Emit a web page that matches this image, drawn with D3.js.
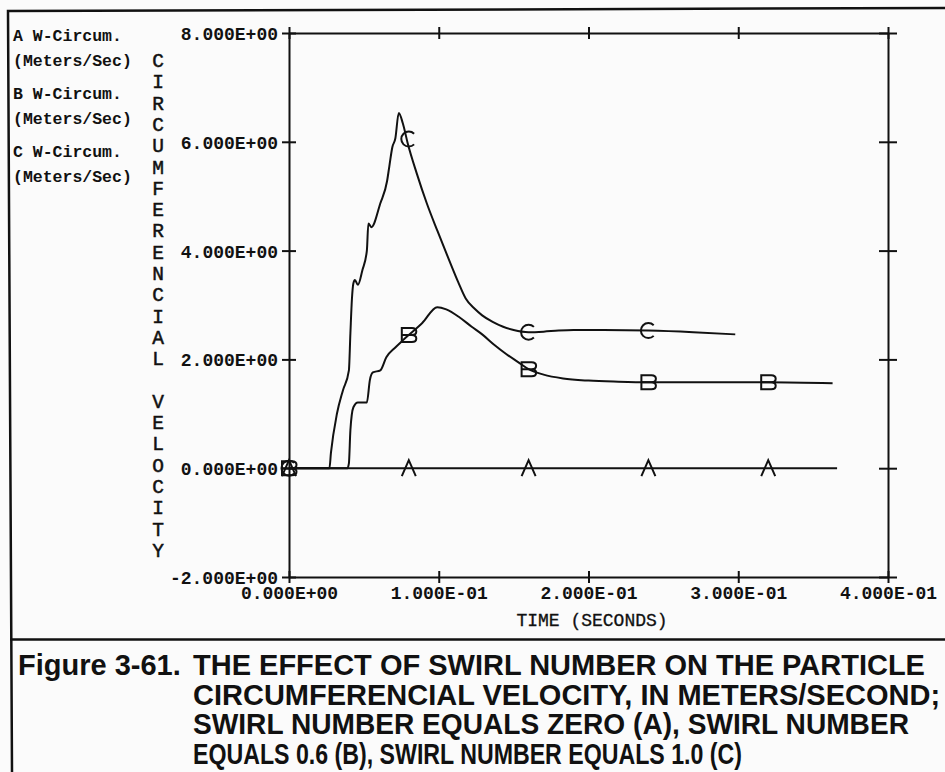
<!DOCTYPE html>
<html><head><meta charset="utf-8">
<script src="https://cdn.jsdelivr.net/npm/d3@7"></script>
<style>html,body{margin:0;padding:0;background:#fbfbfb;} svg{display:block;}</style>
</head><body><svg id="c" width="945" height="772"></svg>
<script>
// ---------- data ----------
const xTicks = [0, 0.1, 0.2, 0.3, 0.4];
const xTickLabels = ["0.000E+00", "1.000E-01", "2.000E-01", "3.000E-01", "4.000E-01"];
const yTicks = [-2, 0, 2, 4, 6, 8];
const yTickLabels = ["-2.000E+00", "0.000E+00", "2.000E+00", "4.000E+00", "6.000E+00", "8.000E+00"];

// Series A: swirl number 0
const aTime = [0, 0.366];
const aVel  = [0, 0];
// Series B: swirl number 0.6
const bTime = [0, 0.039, 0.040, 0.041, 0.043, 0.046, 0.052, 0.054, 0.056, 0.061, 0.065, 0.071, 0.076, 0.080, 0.089, 0.099, 0.105, 0.114, 0.122, 0.129, 0.137, 0.145, 0.153, 0.160, 0.170, 0.183, 0.200, 0.220, 0.240, 0.280, 0.320, 0.363];
const bVel  = [0, 0, 0.09, 0.70, 1.12, 1.21, 1.21, 1.62, 1.76, 1.80, 2.04, 2.22, 2.35, 2.45, 2.67, 2.96, 2.92, 2.77, 2.60, 2.46, 2.27, 2.10, 1.95, 1.82, 1.72, 1.65, 1.61, 1.59, 1.58, 1.58, 1.58, 1.56];
// Series C: swirl number 1.0
const cTime = [0, 0.027, 0.028, 0.032, 0.036, 0.040, 0.041, 0.042, 0.043, 0.044, 0.046, 0.049, 0.052, 0.053, 0.055, 0.061, 0.0655, 0.067, 0.069, 0.071, 0.0733, 0.076, 0.0793, 0.0853, 0.092, 0.099, 0.107, 0.113, 0.118, 0.124, 0.129, 0.136, 0.143, 0.150, 0.160, 0.170, 0.180, 0.190, 0.210, 0.240, 0.270, 0.298];
const cVel  = [0, 0, 0.28, 1.00, 1.43, 1.80, 2.48, 3.10, 3.40, 3.46, 3.37, 3.64, 4.00, 4.50, 4.43, 4.87, 5.28, 5.55, 5.90, 6.06, 6.53, 6.34, 5.97, 5.42, 4.87, 4.37, 3.82, 3.42, 3.12, 2.93, 2.81, 2.69, 2.60, 2.54, 2.50, 2.51, 2.53, 2.54, 2.54, 2.53, 2.50, 2.46];

const markTime  = [0, 0.08, 0.16, 0.24, 0.32];
const aMarkVel  = [0, 0, 0, 0, 0];
const bMarkVel  = [0, 2.45, 1.82, 1.58, 1.58];
const cMarkTime = [0, 0.08, 0.16, 0.24];
const cMarkVel  = [0, 6.05, 2.50, 2.53];

const legendLabels = ["A W-Circum.", "B W-Circum.", "C W-Circum."];
const legendUnit = "(Meters/Sec)";
const yTitle = "CIRCUMFERENCIAL VELOCITY";
const xTitle = "TIME (SECONDS)";
const captionLabel = "Figure 3-61.";
const captionLines = [
  "THE EFFECT OF SWIRL NUMBER ON THE PARTICLE",
  "CIRCUMFERENCIAL VELOCITY, IN METERS/SECOND;",
  "SWIRL NUMBER EQUALS ZERO (A), SWIRL NUMBER",
  "EQUALS 0.6 (B), SWIRL NUMBER EQUALS 1.0 (C)"
];
const captionWidths = [null, null, 716, 549];

// ---------- drawing ----------
const svg = d3.select("#c");
const ink = "#111";
const mono = "'Liberation Mono', 'DejaVu Sans Mono', monospace";

svg.append("rect").attr("width", 945).attr("height", 772).attr("fill", "#fbfbfb");

// page frame
svg.append("path").attr("d", "M945,8 L8,11 L12,772").attr("fill", "none").attr("stroke", ink).attr("stroke-width", 2.5);
svg.append("line").attr("x1", 10).attr("x2", 945).attr("y1", 639.5).attr("y2", 639.5).attr("stroke", ink).attr("stroke-width", 2.5);

const x = d3.scaleLinear().domain([0, 0.4]).range([289, 888]);
const y = d3.scaleLinear().domain([-2, 8]).range([577, 33]);

function styleAxis(g) {
  g.selectAll("path.domain").attr("stroke", ink).attr("stroke-width", 2);
  g.selectAll(".tick line").attr("stroke", ink).attr("stroke-width", 2);
  g.selectAll("text").attr("fill", ink).attr("font-family", mono).attr("font-size", 18).attr("font-weight", "bold");
}

// bottom axis
const gb = svg.append("g").attr("transform", `translate(0,${y(-2)})`)
  .call(d3.axisBottom(x).tickValues(xTicks).tickFormat((d, i) => xTickLabels[i]).tickSize(6).tickSizeOuter(0));
gb.selectAll(".tick line").attr("y1", -6).attr("y2", 6);
gb.selectAll(".tick text").attr("y", 22).attr("dy", 0);
styleAxis(gb);

// top axis
const gt = svg.append("g").attr("transform", `translate(0,${y(8)})`)
  .call(d3.axisTop(x).tickValues(xTicks).tickFormat("").tickSize(6).tickSizeOuter(0));
gt.selectAll(".tick line").attr("y1", 6).attr("y2", -6);
styleAxis(gt);

// left axis
const gl = svg.append("g").attr("transform", `translate(${x(0)},0)`)
  .call(d3.axisLeft(y).tickValues(yTicks).tickFormat((d, i) => yTickLabels[i]).tickSize(7).tickSizeOuter(0));
gl.selectAll(".tick line").attr("x1", 7).attr("x2", -7);
gl.selectAll(".tick text").attr("x", -11).attr("dy", "0.36em");
styleAxis(gl);

// right axis
const gr = svg.append("g").attr("transform", `translate(${x(0.4)},0)`)
  .call(d3.axisRight(y).tickValues(yTicks).tickFormat("").tickSize(9).tickSizeOuter(0));
gr.selectAll(".tick line").attr("x1", -9).attr("x2", 9);
styleAxis(gr);

// curves
const line = d3.line().x(d => x(d[0])).y(d => y(d[1])).curve(d3.curveMonotoneX);
const series = [
  {t: aTime, v: aVel},
  {t: bTime, v: bVel},
  {t: cTime, v: cVel}
];
series.forEach(s => {
  svg.append("path").datum(s.t.map((t, i) => [t, s.v[i]]))
    .attr("d", line).attr("fill", "none").attr("stroke", ink).attr("stroke-width", 2)
    .attr("stroke-linejoin", "round");
});

// markers
const shapeA = "M-7,8 L0,-8 L7,8";
const shapeB = "M-7,-7 H3 Q7.5,-7 7.5,-3.5 Q7.5,0 3,0 Q7.5,0 7.5,3.5 Q7.5,7 3,7 H-7 Z M-7,0 H3";
const shapeC = "M5.3,-5.3 A7.5,7.5 0 1 0 5.3,5.3";
function drawMarks(ts, vs, shape) {
  svg.append("g").selectAll("path").data(ts.map((t, i) => [t, vs[i]])).join("path")
    .attr("transform", d => `translate(${x(d[0])},${y(d[1])})`)
    .attr("d", shape).attr("fill", "none").attr("stroke", ink).attr("stroke-width", 2);
}
drawMarks(markTime, aMarkVel, shapeA);
drawMarks(markTime, bMarkVel, shapeB);
drawMarks(cMarkTime, cMarkVel, shapeC);

// legend (top-left)
legendLabels.forEach((lab, i) => {
  const by = 41 + i * 58;
  svg.append("text").attr("x", 13).attr("y", by).text(lab)
    .attr("font-family", mono).attr("font-size", 16.5).attr("font-weight", "bold").attr("fill", ink);
  svg.append("text").attr("x", 13).attr("y", by + 25).text(legendUnit)
    .attr("font-family", mono).attr("font-size", 16.5).attr("font-weight", "bold").attr("fill", ink);
});

// y title (stacked letters, one text per letter)
svg.append("g").selectAll("text")
  .data(yTitle.split("").map((ch, i) => ({ch, i})).filter(d => d.ch !== " "))
  .join("text")
  .attr("x", 158).attr("y", d => 67 + d.i * 21.3)
  .attr("text-anchor", "middle")
  .attr("font-family", mono).attr("font-size", 19.5).attr("fill", ink)
  .attr("stroke", ink).attr("stroke-width", 0.5)
  .text(d => d.ch);

// x title
svg.append("text").attr("x", 592).attr("y", 626).attr("text-anchor", "middle")
  .attr("font-family", mono).attr("font-size", 18).attr("fill", ink)
  .attr("stroke", ink).attr("stroke-width", 0.3).text(xTitle);

// caption
const capFont = "'Liberation Sans', Arial, Helvetica, sans-serif";
svg.append("text").attr("x", 18).attr("y", 675).text(captionLabel)
  .attr("font-family", capFont).attr("font-weight", "bold").attr("font-size", 29).attr("fill", ink);
captionLines.forEach((ln, i) => {
  const t = svg.append("text").attr("x", 193).attr("y", 675 + i * 29.5).text(ln)
    .attr("font-family", capFont).attr("font-weight", "bold").attr("font-size", 29).attr("fill", ink);
  if (captionWidths[i]) t.attr("textLength", captionWidths[i]).attr("lengthAdjust", "spacingAndGlyphs");
});
</script></body></html>
